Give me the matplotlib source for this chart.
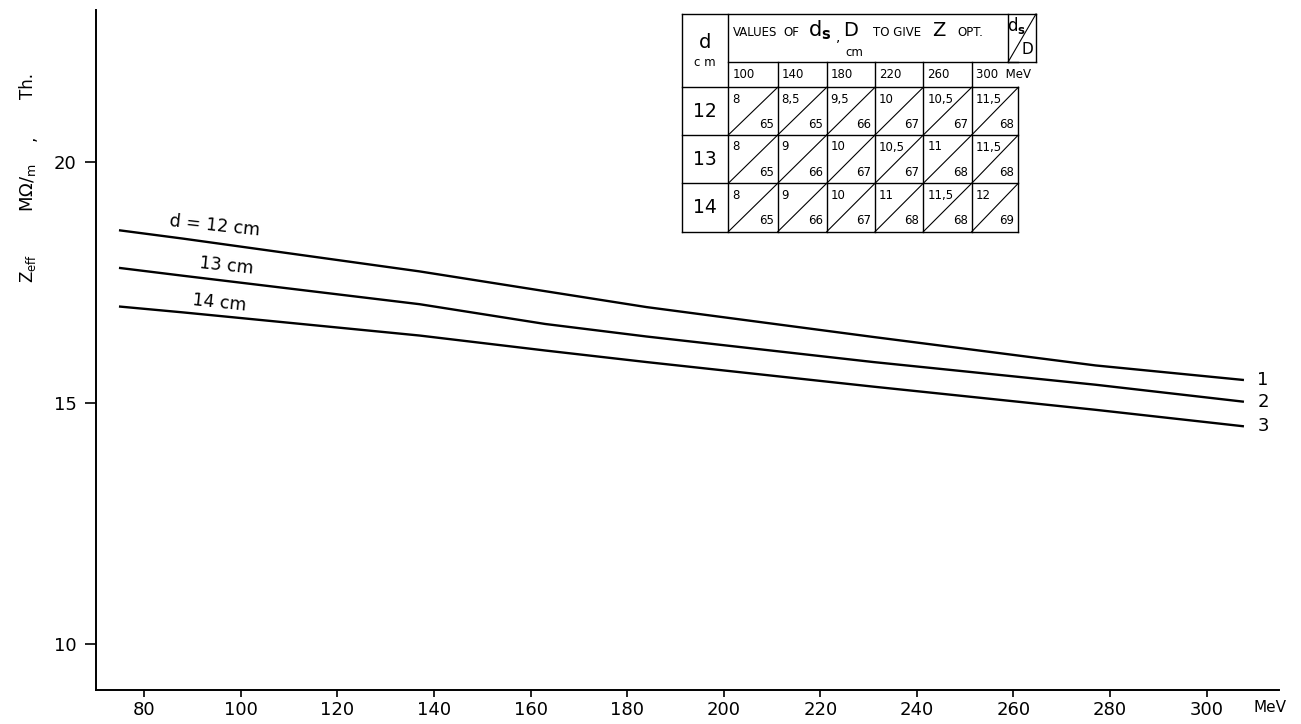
import numpy as np
import matplotlib.pyplot as plt
from matplotlib.lines import Line2D

# beam energy (MeV) and Z_eff (MOhm/m, theory) for three drift tube diameters
energy = [75, 88, 137, 163, 184, 231, 277, 307.5]
z_d12 = [18.58, 18.41, 17.73, 17.32, 16.99, 16.37, 15.78, 15.48]
z_d13 = [17.80, 17.64, 17.05, 16.64, 16.38, 15.85, 15.38, 15.03]
z_d14 = [17.00, 16.88, 16.40, 16.09, 15.85, 15.34, 14.86, 14.52]
curve_names = ["1", "2", "3"]
curve_labels = ["d = 12 cm", "13 cm", "14 cm"]

x_ticks = [80, 100, 120, 140, 160, 180, 200, 220, 240, 260, 280, 300]
y_ticks = [10, 15, 20]

# inset table: optimum d_s / D (cm)
tab_energy = ["100", "140", "180", "220", "260", "300  MeV"]
tab_d = ["12", "13", "14"]
tab_ds = [["8", "8,5", "9,5", "10", "10,5", "11,5"],
          ["8", "9", "10", "10,5", "11", "11,5"],
          ["8", "9", "10", "11", "11,5", "12"]]
tab_D = [["65", "65", "66", "67", "67", "68"],
         ["65", "66", "67", "67", "68", "68"],
         ["65", "66", "67", "68", "68", "69"]]

W, H = 1301, 724
fig = plt.figure(figsize=(W / 100, H / 100), dpi=100)
ax = fig.add_axes([96 / W, 1 - 690 / H, (1279 - 96) / W, (690 - 10) / H])

for z in [z_d12, z_d13, z_d14]:
    ax.plot(energy, z, color="k", lw=1.7)

ax.set_xlim(70, 315)
ax.set_ylim(9.05, 23.15)
ax.set_xticks(x_ticks)
ax.set_yticks(y_ticks)
ax.tick_params(axis="x", length=5, width=1.2, labelsize=13, pad=3)
ax.tick_params(axis="y", length=8, width=1.2, labelsize=13, pad=6)
for s in ["top", "right"]:
    ax.spines[s].set_visible(False)
for s in ["left", "bottom"]:
    ax.spines[s].set_linewidth(1.4)

# curve annotations
ax.text(94.5, 18.68, curve_labels[0], fontsize=12.5, ha="center", va="center", rotation=-6)
ax.text(97, 17.85, curve_labels[1], fontsize=12.5, ha="center", va="center", rotation=-6)
ax.text(95.5, 17.07, curve_labels[2], fontsize=12.5, ha="center", va="center", rotation=-6)
for name, z in zip(curve_names, [z_d12, z_d13, z_d14]):
    ax.text(310.5, z[-1], name, fontsize=13, ha="left", va="center")

fig.text(1270 / W, 1 - 707 / H, "MeV", fontsize=11, ha="center", va="center")

# y axis title, pieces spaced as in the original
fig.text(28 / W, 1 - 268 / H, r"Z$_{\rm eff}$", fontsize=12, rotation=90, ha="center", va="center")
fig.text(28 / W, 1 - 188 / H, r"M$\Omega$/$_{\rm m}$", fontsize=13, rotation=90, ha="center", va="center")
fig.text(30 / W, 1 - 138 / H, ",", fontsize=12, rotation=90, ha="center", va="center")
fig.text(28 / W, 1 - 86 / H, "Th.", fontsize=12, rotation=90, ha="center", va="center")


# ---- table drawn in pixel coordinates of the figure ----
def fx(px):
    return px / W


def fy(py):
    return 1 - py / H


def seg(x0, y0, x1, y1, lw=1.0):
    fig.add_artist(Line2D([fx(x0), fx(x1)], [fy(y0), fy(y1)],
                          transform=fig.transFigure, color="k", lw=lw))


def txt(px, py, s, size=8, ha="center", va="center"):
    fig.text(fx(px), fy(py), s, fontsize=size, ha=ha, va=va)


left, c1, c_end, box_r = 681.7, 728.3, 1018.3, 1036
top, h1, h2 = 14, 61.7, 87.3
col_x = [728.3, 777.7, 826.7, 875, 923.3, 971.7, 1018.3]
row_y = [87.3, 135, 183.3, 231.7]

# outer frame and header
seg(left, top, box_r, top)
seg(left, top, left, row_y[-1])
seg(c1, top, c1, row_y[-1])
seg(c1, h1, c_end, h1)
seg(1008.3, top, 1008.3, h1)
seg(box_r, top, box_r, h1)
seg(1008.3, h1, box_r, h1)
seg(1008.3, h1, box_r, top, lw=0.8)
seg(left, h2, c_end, h2)
for x in col_x[1:-1]:
    seg(x, h1, x, h2)
for y in row_y[1:]:
    seg(left, y, c_end, y)
for x in col_x[1:]:
    seg(x, h2, x, row_y[-1])

txt(705, 42, "d", size=14)
txt(705, 63, "c m", size=8.5)
txt(755, 33, "VALUES", size=8.5)
txt(791, 33, "OF", size=8.5)
txt(820, 30, r"d$_{\mathbf{s}}$", size=15)
txt(838, 37, ",", size=10)
txt(851, 30, "D", size=14)
txt(897, 33, "TO GIVE", size=8.5)
txt(939, 30, "Z", size=14)
txt(970, 33, "OPT.", size=8.5)
txt(854, 52, "cm", size=8.5)
txt(1017, 25, r"d$_{\mathbf{s}}$", size=12)
txt(1027, 50, "D", size=11)

for i, e in enumerate(tab_energy):
    txt(col_x[i] + 4, 75, e, size=8.5, ha="left")

for r, d in enumerate(tab_d):
    y0, y1 = row_y[r], row_y[r + 1]
    txt(705, (y0 + y1) / 2, d, size=13.5)
    for c in range(6):
        x0, x1 = col_x[c], col_x[c + 1]
        seg(x0, y1, x1, y0, lw=0.8)
        txt(x0 + 4, y0 + 12, tab_ds[r][c], size=8.5, ha="left")
        txt(x1 - 4, y1 - 11, tab_D[r][c], size=8.5, ha="right")

plt.savefig("out.png", dpi=100)
